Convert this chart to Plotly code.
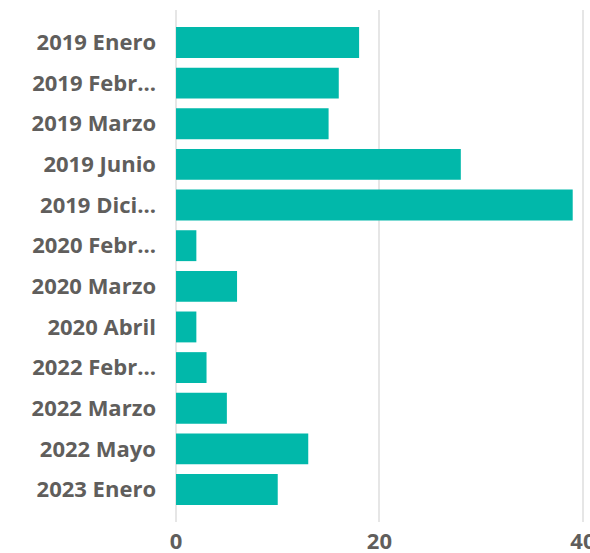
import plotly.graph_objects as go

categories = ["2019 Enero", "2019 Febr...", "2019 Marzo", "2019 Junio", "2019 Dici...",
              "2020 Febr...", "2020 Marzo", "2020 Abril", "2022 Febr...", "2022 Marzo",
              "2022 Mayo", "2023 Enero"]
values = [18, 16, 15, 28, 39, 2, 6, 2, 3, 5, 13, 10]
x_ticks = [0, 20, 40]

fig = go.Figure(go.Bar(
    x=values, y=categories, orientation="h",
    marker=dict(color="#01B8AA", line=dict(width=0)),
))

fig.update_layout(
    width=590, height=553,
    margin=dict(l=175, r=0, t=10, b=31, autoexpand=False),
    paper_bgcolor="white", plot_bgcolor="white",
    bargap=0.24, showlegend=False,
    font=dict(family="Open Sans", size=21, color="#605E5C"),
)
fig.update_xaxes(
    range=[-0.1, 40.7], tickvals=x_ticks, showgrid=True, gridcolor="#E6E6E6", gridwidth=1.5,
    zeroline=False, showline=False, ticks="", ticklabeloverflow="allow",
    ticklabelstandoff=4, automargin=False,
    tickfont=dict(family="Open Sans", size=22, color="#605E5C", weight="bold"),
)
fig.update_yaxes(
    range=[11.8, -0.8], showgrid=False, zeroline=False, showline=False, ticks="",
    ticklabelstandoff=18, automargin=False,
    tickfont=dict(family="Open Sans", size=22, color="#605E5C", weight="bold"),
)

# remove the default page margin so the figure fills the window exactly
fig.write_html(
    "out.html",
    config={"displayModeBar": False},
    post_script="document.body.style.margin='0px'; document.body.style.overflow='hidden';",
)
